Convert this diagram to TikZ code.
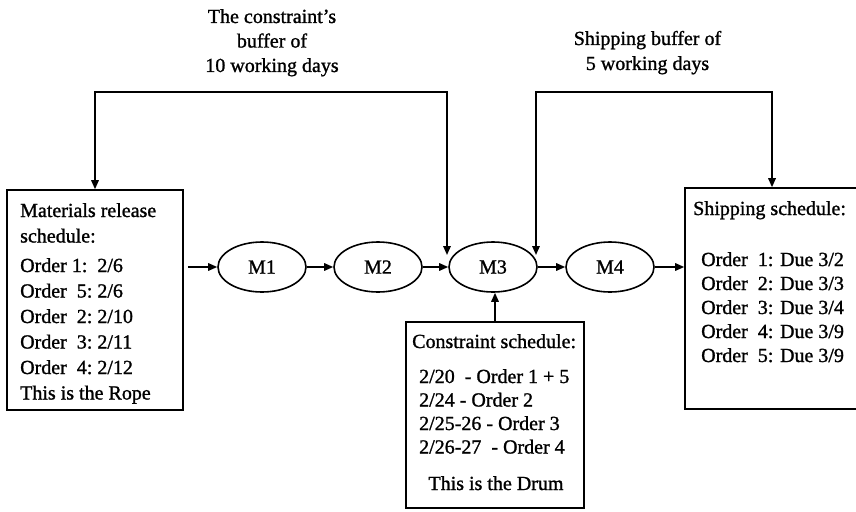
\documentclass[tikz,border=0pt]{standalone}
\usepackage{fontspec}
\setmainfont{Liberation Serif}[FakeBold=1.2]
\usetikzlibrary{shapes.geometric,arrows.meta,calc}
\tikzset{
  ln/.style={line width=1.6pt},
  arr/.style={ln,-{Triangle[length=9pt,width=7.5pt]}},
  darr/.style={ln,{Triangle[length=9pt,width=7.5pt]}-{Triangle[length=9pt,width=7.5pt]}},
  mach/.style={ellipse,draw,ln,minimum width=88pt,minimum height=50pt,inner sep=0pt,font=\fontsize{20}{24}\selectfont},
  box/.style={draw,ln,rectangle,inner sep=0pt},
  txt/.style={inner sep=0pt,anchor=base west},
  ctxt/.style={inner sep=0pt,anchor=base},
}
\begin{document}
\begin{tikzpicture}[x=1pt,y=-1pt]
\useasboundingbox (0,0) rectangle (856,511);
% boxes
\node[box,minimum width=176pt,minimum height=220pt] (mat) at (95,300) {};
\node[box,minimum width=178pt,minimum height=186pt] (cons) at (495,415) {};
\node[box,minimum width=174pt,minimum height=221pt] (ship) at (772,298.5) {};
% machines
\node[mach] (M1) at (262,267) {M1};
\node[mach] (M2) at (378,267) {M2};
\node[mach] (M3) at (493,267) {M3};
\node[mach] (M4) at (610,267) {M4};
% box texts
\node[txt] (mattxt) at (20,217) {\fontsize{20}{25.5}\selectfont
  \begin{tabular}[t]{@{}l@{}}Materials release\\ schedule:\\[4pt]
  Order~1:~~2/6\\ Order~~5:~2/6\\ Order~~2:~2/10\\ Order~~3:~2/11\\ Order~~4:~2/12\\ This is the Rope\end{tabular}};
\node[txt] (constitle) at (412,348) {\fontsize{20}{24}\selectfont Constraint schedule:};
\node[txt] (conslines) at (419,383) {\fontsize{20}{23.5}\selectfont
  \begin{tabular}[t]{@{}l@{}}2/20~~- Order 1 + 5\\ 2/24 - Order 2\\ 2/25-26 - Order 3\\ 2/26-27~~- Order 4\end{tabular}};
\node[ctxt] (drum) at (496,490) {\fontsize{20}{24}\selectfont This is the Drum};
\node[txt] (shiptitle) at (693,215) {\fontsize{20}{24}\selectfont Shipping schedule:};
\node[txt] (shiplines) at (701,266) {\fontsize{20}{24}\selectfont
  \begin{tabular}[t]{@{}l@{}}Order~~1: Due 3/2\\ Order~~2: Due 3/3\\ Order~~3: Due 3/4\\ Order~~4: Due 3/9\\ Order~~5: Due 3/9\end{tabular}};
% buffer labels
\node[ctxt] (cbuf) at (272,23) {\fontsize{20}{24.5}\selectfont
  \begin{tabular}[t]{@{}c@{}}The constraint's\\ buffer of\\ 10 working days\end{tabular}};
\node[ctxt] (sbuf) at (647.5,45) {\fontsize{20}{25}\selectfont
  \begin{tabular}[t]{@{}c@{}}Shipping buffer of\\ 5 working days\end{tabular}};
% flow
\coordinate (matout) at ($(mat.east |- M1.west)+(4,0)$);
\draw[arr] (matout) -- (M1.west);
\draw[arr] (M1.east) -- (M2.west);
\draw[arr] (M2.east) -- (M3.west);
\draw[arr] (M3.east) -- (M4.west);
\draw[arr] (M4.east) -- (ship.west |- M4.east);
\draw[arr] (cons.north) -- (cons.north |- M3.south);
% buffers
\coordinate (inL) at (447,255);
\coordinate (inR) at (536,255);
\coordinate (topL) at (272,92);
\coordinate (topR) at (650,92);
\draw[darr] (inL) |- (topL) -| (mat.north);
\draw[darr] (inR) |- (topR) -| (ship.north);
\end{tikzpicture}
\end{document}
